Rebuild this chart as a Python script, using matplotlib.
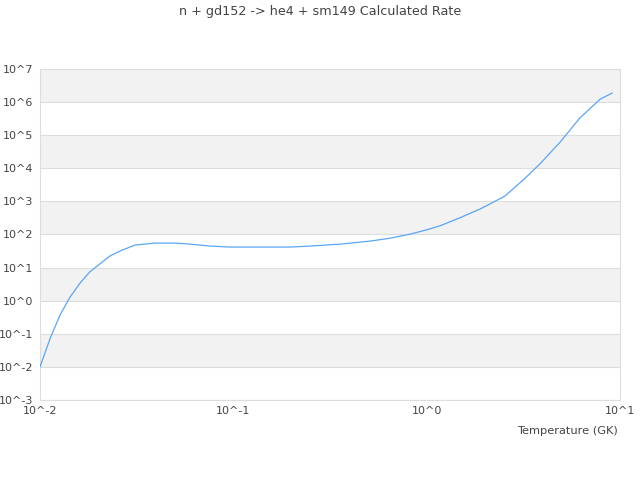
import matplotlib
matplotlib.use("Agg")
import matplotlib.pyplot as plt
from matplotlib.ticker import FixedLocator, FixedFormatter, NullLocator

# valeurs (T9 en GK, taux calculé)
temperature = [0.01, 0.0113, 0.0127, 0.0143, 0.0161, 0.0181, 0.0204, 0.023, 0.0259,
               0.031, 0.0393, 0.05, 0.0597, 0.0757, 0.096, 0.137, 0.196, 0.25,
               0.36, 0.51, 0.65, 0.82, 1.0, 1.17, 1.48, 1.89, 2.54, 3.2, 3.85,
               4.9, 6.2, 7.9, 9.1]
log_rate = [-2.0, -1.13, -0.43, 0.11, 0.53, 0.87, 1.11, 1.35, 1.50,
            1.68, 1.74, 1.74, 1.71, 1.65, 1.62, 1.62, 1.62, 1.65,
            1.71, 1.80, 1.89, 2.01, 2.14, 2.26, 2.50, 2.77, 3.16, 3.68, 4.13,
            4.79, 5.52, 6.09, 6.27]
rate = [10 ** v for v in log_rate]

x_ticks = [0.01, 0.1, 1, 10]
x_labels = ["10^-2", "10^-1", "10^0", "10^1"]
y_ticks = [10.0 ** e for e in range(-3, 8)]
y_labels = ["10^%d" % e for e in range(-3, 8)]

text_color = "#444444"
grid_color = "#dddddd"

fig = plt.figure(figsize=(6.4, 4.8), dpi=100)
ax = fig.add_axes([0.0625, 0.1667, 0.90625, 0.6896])

# bandes alternées
for e in range(-2, 7, 2):
    ax.axhspan(10.0 ** e, 10.0 ** (e + 1), color="#f2f2f2", zorder=0, lw=0)

ax.plot(temperature, rate, color="#5aa5f5", linewidth=0.9, zorder=3)

ax.set_xscale("log")
ax.set_yscale("log")
ax.set_xlim(0.01, 10)
ax.set_ylim(1e-3, 1e7)

ax.xaxis.set_major_locator(FixedLocator(x_ticks))
ax.xaxis.set_major_formatter(FixedFormatter(x_labels))
ax.xaxis.set_minor_locator(NullLocator())
ax.yaxis.set_major_locator(FixedLocator(y_ticks))
ax.yaxis.set_major_formatter(FixedFormatter(y_labels))
ax.yaxis.set_minor_locator(NullLocator())

ax.grid(True, axis="y", color=grid_color, linewidth=0.8, zorder=1)
ax.tick_params(length=0, labelsize=8, labelcolor=text_color)
ax.tick_params(axis="y", pad=5)
ax.tick_params(axis="x", pad=4)
for s in ax.spines.values():
    s.set_color(grid_color)
    s.set_linewidth(0.8)

fig.text(0.5, 0.99, "n + gd152 -> he4 + sm149 Calculated Rate",
         ha="center", va="top", fontsize=9.2, color=text_color)
fig.text(0.966, 0.102, "Temperature (GK)", ha="right", va="center",
         fontsize=8.2, color=text_color)

fig.savefig("out.png", dpi=100)
plt.close(fig)
